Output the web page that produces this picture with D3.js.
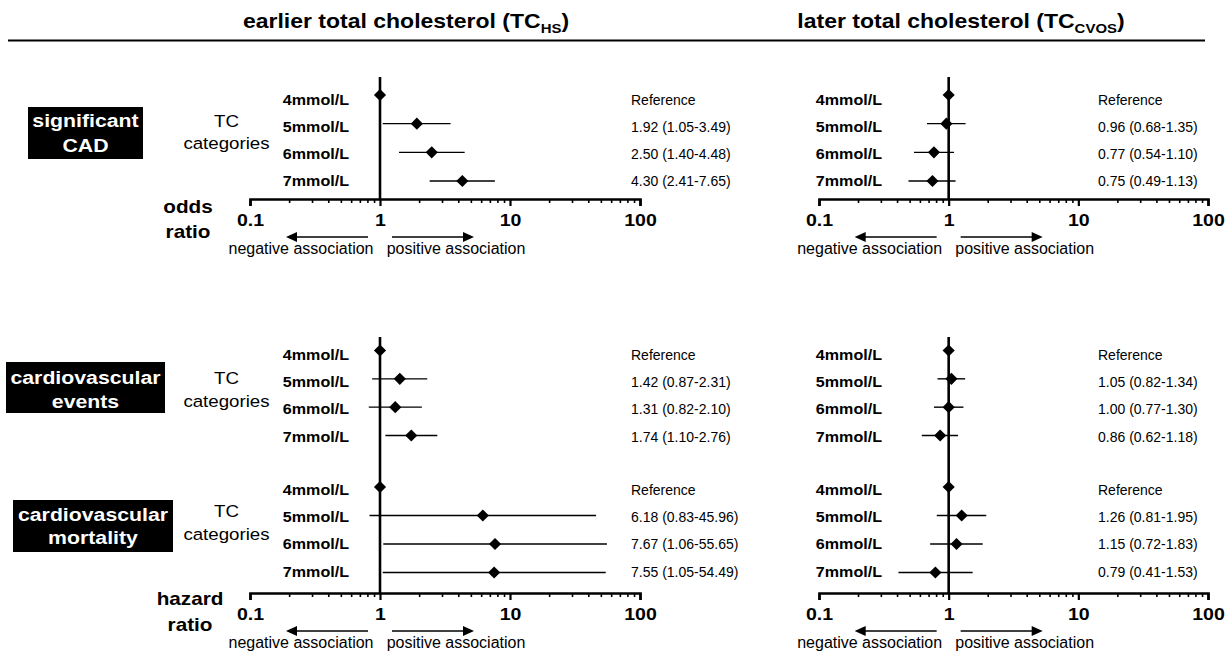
<!DOCTYPE html>
<html>
<head>
<meta charset="utf-8">
<script src="https://cdn.jsdelivr.net/npm/d3@7"></script>
<style>
  html, body { margin: 0; padding: 0; background: #fff; }
  svg { display: block; font-family: "Liberation Sans", Arial, Helvetica, sans-serif; }
</style>
</head>
<body>
<svg id="chart" width="1232" height="654"></svg>
<script>
// ---------------- data ----------------
const categories = ["4mmol/L", "5mmol/L", "6mmol/L", "7mmol/L"];

// significant CAD (odds ratio)
const cadHS_est   = [1, 1.92, 2.50, 4.30];
const cadHS_lo    = [null, 1.05, 1.40, 2.41];
const cadHS_hi    = [null, 3.49, 4.48, 7.65];
const cadCVOS_est = [1, 0.96, 0.77, 0.75];
const cadCVOS_lo  = [null, 0.68, 0.54, 0.49];
const cadCVOS_hi  = [null, 1.35, 1.10, 1.13];

// cardiovascular events (hazard ratio)
const evHS_est   = [1, 1.42, 1.31, 1.74];
const evHS_lo    = [null, 0.87, 0.82, 1.10];
const evHS_hi    = [null, 2.31, 2.10, 2.76];
const evCVOS_est = [1, 1.05, 1.00, 0.86];
const evCVOS_lo  = [null, 0.82, 0.77, 0.62];
const evCVOS_hi  = [null, 1.34, 1.30, 1.18];

// cardiovascular mortality (hazard ratio)
const moHS_est   = [1, 6.18, 7.67, 7.55];
const moHS_lo    = [null, 0.83, 1.06, 1.05];
const moHS_hi    = [null, 45.96, 55.65, 54.49];
const moCVOS_est = [1, 1.26, 1.15, 0.79];
const moCVOS_lo  = [null, 0.81, 0.72, 0.41];
const moCVOS_hi  = [null, 1.95, 1.83, 1.53];

const majorTicks = [0.1, 1, 10, 100];
const tickLabels = ["0.1", "1", "10", "100"];

// ---------------- drawing ----------------
const svg = d3.select("#chart");
const FONT = '"Liberation Sans", Arial, Helvetica, sans-serif';
const INK = "#000";

function txt(parent, x, y, str, o = {}) {
  const t = parent.append("text")
    .attr("transform", `translate(${x},${y}) scale(${o.sx || 1},1)`)
    .attr("font-size", o.size || 14)
    .attr("font-weight", o.weight || "normal")
    .attr("text-anchor", o.anchor || "start")
    .attr("fill", o.fill || INK)
    .text(str);
  return t;
}

const BSX = 1.15; // bold glyph stretch

// header
function title(cx, main, sub) {
  const t = svg.append("text")
    .attr("transform", `translate(${cx},28) scale(${BSX},1)`)
    .attr("text-anchor", "middle")
    .attr("font-size", 20).attr("font-weight", "bold").attr("fill", INK);
  t.append("tspan").text(main);
  t.append("tspan").attr("font-size", 13).attr("dy", 5).text(sub);
  t.append("tspan").attr("font-size", 20).attr("dy", -5).text(")");
}
title(406, "earlier total cholesterol (TC", "HS");
title(961, "later total cholesterol (TC", "CVOS");
svg.append("line").attr("x1", 8).attr("x2", 1205).attr("y1", 40.5).attr("y2", 40.5)
  .attr("stroke", INK).attr("stroke-width", 2);

// columns
const columns = [
  { x: d3.scaleLog().domain([0.1, 100]).range([250, 640]), labelX: 349, valueX: 631 },
  { x: d3.scaleLog().domain([0.1, 100]).range([819, 1208]), labelX: 882, valueX: 1098 }
];

// blocks: each has its own rows
const blocks = [
  { col: 0, est: cadHS_est, lo: cadHS_lo, hi: cadHS_hi, mark: [95, 181], lab: [99.5, 180.5] },
  { col: 1, est: cadCVOS_est, lo: cadCVOS_lo, hi: cadCVOS_hi, mark: [95, 181], lab: [100, 180.5] },
  { col: 0, est: evHS_est, lo: evHS_lo, hi: evHS_hi, mark: [350.5, 435.5], lab: [354.5, 436.5] },
  { col: 1, est: evCVOS_est, lo: evCVOS_lo, hi: evCVOS_hi, mark: [350.5, 435.5], lab: [354.5, 436.5] },
  { col: 0, est: moHS_est, lo: moHS_lo, hi: moHS_hi, mark: [487, 572.5], lab: [489.5, 571.5] },
  { col: 1, est: moCVOS_est, lo: moCVOS_lo, hi: moCVOS_hi, mark: [487, 572.5], lab: [489.5, 571.5] }
];

// panels (axis + vertical reference line)
const panels = [
  { col: 0, top: 77, axisY: 199 },
  { col: 1, top: 77, axisY: 199 },
  { col: 0, top: 337, axisY: 593 },
  { col: 1, top: 337, axisY: 593 }
];

panels.forEach(p => {
  const x = columns[p.col].x;
  const g = svg.append("g");
  // minor ticks
  const minor = x.ticks().filter(v => !majorTicks.some(m => Math.abs(m - v) < 1e-9));
  const minorAxis = d3.axisBottom(x).tickValues(minor).tickSize(4).tickFormat("");
  const mg = g.append("g").attr("transform", `translate(0,${p.axisY})`).call(minorAxis);
  mg.select(".domain").remove();
  mg.selectAll(".tick line").attr("stroke", INK).attr("stroke-width", 1.6);
  // major axis
  const majorAxis = d3.axisBottom(x).tickValues(majorTicks)
    .tickFormat((d, i) => tickLabels[i]).tickSize(7).tickSizeOuter(7).tickPadding(8);
  const ag = g.append("g").attr("transform", `translate(0,${p.axisY})`).call(majorAxis);
  ag.select(".domain").attr("stroke", INK).attr("stroke-width", 2.6);
  ag.selectAll(".tick line").attr("stroke", INK).attr("stroke-width", 2.2);
  ag.selectAll(".tick text")
    .attr("font-family", FONT).attr("font-size", 17).attr("font-weight", "bold")
    .attr("fill", INK).attr("transform", `scale(${BSX},1)`);
  // vertical line at 1
  g.append("line").attr("x1", x(1)).attr("x2", x(1)).attr("y1", p.top).attr("y2", p.axisY)
    .attr("stroke", INK).attr("stroke-width", 2.6);
  // association arrows
  const ay = p.axisY + 38;
  const x1 = x(1);
  const arrow = (from, to) => {
    const dir = Math.sign(to - from);
    g.append("line").attr("x1", from).attr("x2", to - dir * 8).attr("y1", ay).attr("y2", ay)
      .attr("stroke", INK).attr("stroke-width", 1.6);
    g.append("path")
      .attr("d", `M${to},${ay} L${to - dir * 11},${ay - 5} L${to - dir * 11},${ay + 5} Z`)
      .attr("fill", INK);
  };
  arrow(x1 - 12, x1 - 94);
  arrow(x1 + 12, x1 + 94);
  txt(g, x1 - 79, p.axisY + 55, "negative association", { size: 16, anchor: "middle" });
  txt(g, x1 + 76, p.axisY + 55, "positive association", { size: 16, anchor: "middle" });
});

const diamond = d3.symbol().type(d3.symbolSquare).size(74);

blocks.forEach(b => {
  const col = columns[b.col];
  const x = col.x;
  const yMark = d3.scalePoint().domain(categories).range(b.mark);
  const yLab = d3.scalePoint().domain(categories).range(b.lab);
  const g = svg.append("g");
  const rows = categories.map((c, i) => ({ c, est: b.est[i], lo: b.lo[i], hi: b.hi[i] }));

  // CI lines
  g.selectAll("line.ci").data(rows.filter(r => r.lo != null)).join("line")
    .attr("class", "ci")
    .attr("x1", r => x(r.lo)).attr("x2", r => x(r.hi))
    .attr("y1", r => yMark(r.c)).attr("y2", r => yMark(r.c))
    .attr("stroke", INK).attr("stroke-width", 1.4);
  // diamonds
  g.selectAll("path.pt").data(rows).join("path")
    .attr("class", "pt")
    .attr("d", diamond)
    .attr("transform", r => `translate(${x(r.est)},${yMark(r.c)}) rotate(45)`)
    .attr("fill", INK);
  // category labels
  rows.forEach(r => {
    txt(g, col.labelX, yLab(r.c) + 5, r.c, { size: 14, weight: "bold", anchor: "end", sx: BSX });
    const s = r.lo == null ? "Reference"
      : `${r.est.toFixed(2)} (${r.lo.toFixed(2)}-${r.hi.toFixed(2)})`;
    txt(g, col.valueX, yLab(r.c) + 5, s, { size: 14 });
  });
});

// "TC categories" labels
[[126.5, 148.5], [384, 406.5], [517, 540]].forEach(([a, c]) => {
  txt(svg, 226.5, a, "TC", { size: 17, anchor: "middle", sx: 1.1 });
  txt(svg, 226.5, c, "categories", { size: 17, anchor: "middle", sx: 1.1 });
});

// outcome boxes
const boxes = [
  { x: 28, y: 107, w: 115, h: 52, lines: ["significant", "CAD"], base: [126.5, 151.5] },
  { x: 6, y: 362, w: 159, h: 51, lines: ["cardiovascular", "events"], base: [383.5, 407.5] },
  { x: 13, y: 500, w: 160, h: 52, lines: ["cardiovascular", "mortality"], base: [520.5, 544] }
];
boxes.forEach(bx => {
  svg.append("rect").attr("x", bx.x).attr("y", bx.y).attr("width", bx.w).attr("height", bx.h)
    .attr("fill", "#000");
  bx.lines.forEach((l, i) => txt(svg, bx.x + bx.w / 2, bx.base[i], l,
    { size: 18.5, weight: "bold", anchor: "middle", fill: "#fff", sx: BSX }));
});

// axis titles
txt(svg, 188, 212.5, "odds", { size: 18, weight: "bold", anchor: "middle", sx: BSX });
txt(svg, 188, 237.5, "ratio", { size: 18, weight: "bold", anchor: "middle", sx: BSX });
txt(svg, 190, 605, "hazard", { size: 18, weight: "bold", anchor: "middle", sx: BSX });
txt(svg, 190, 630.5, "ratio", { size: 18, weight: "bold", anchor: "middle", sx: BSX });
</script>
</body>
</html>
